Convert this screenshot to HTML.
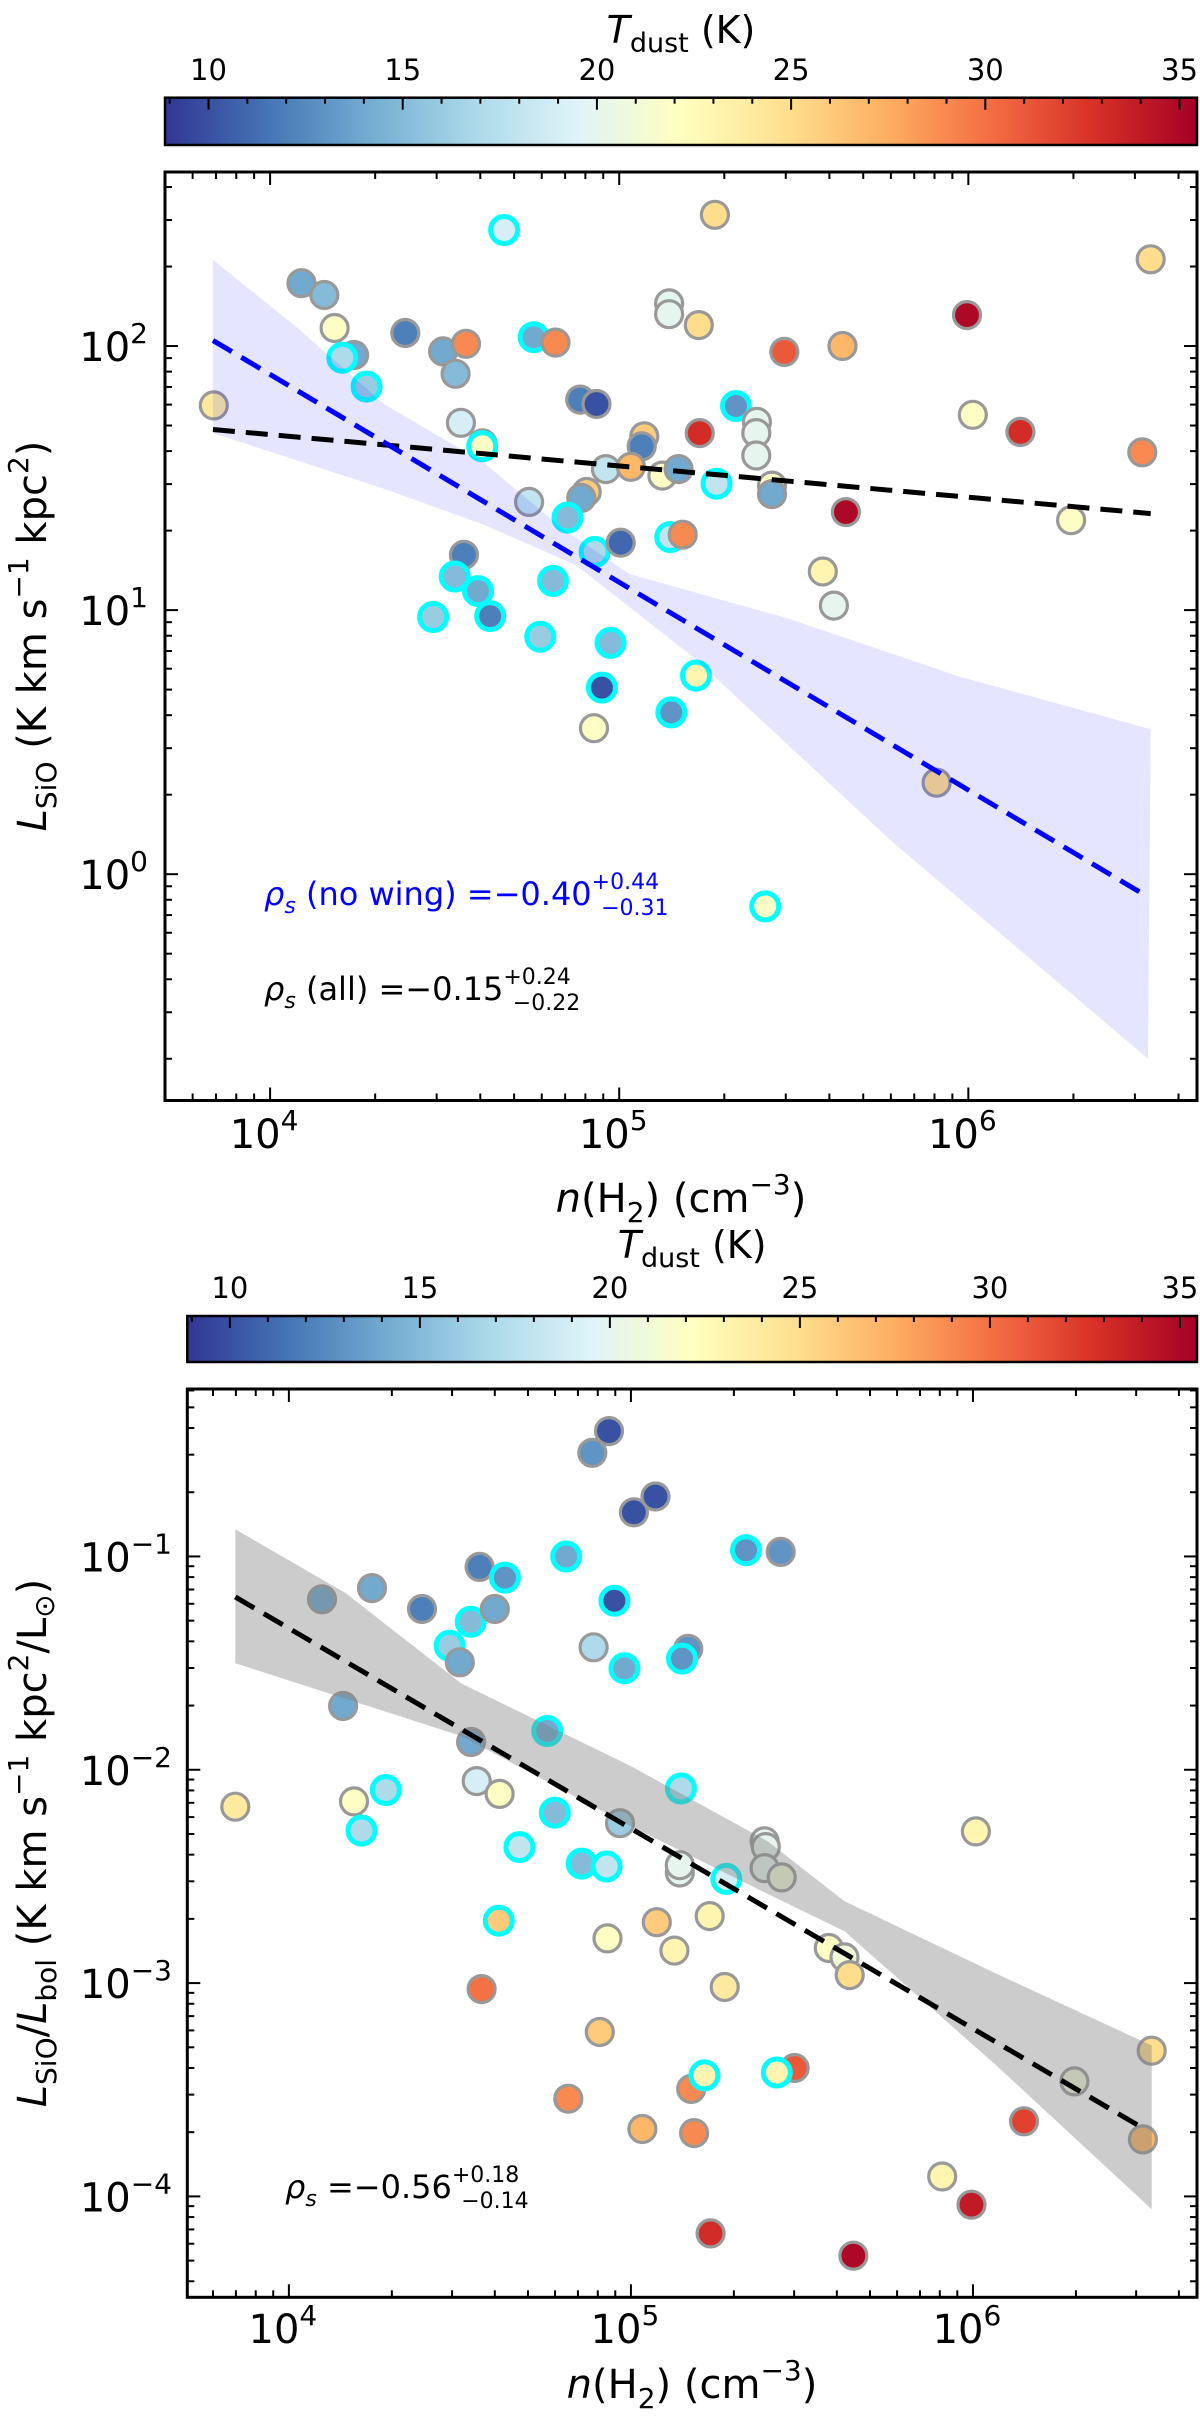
<!DOCTYPE html>
<html><head><meta charset="utf-8"><title>SiO luminosity vs density</title>
<style>
html,body{margin:0;padding:0;background:#fff;}
svg{display:block;font-family:"DejaVu Sans","Liberation Sans",sans-serif;}
</style></head>
<body>
<svg id="fig" xmlns="http://www.w3.org/2000/svg" width="1200" height="2418" viewBox="0 0 1200 2418">
<defs>
<linearGradient id="rdylbu" x1="0" y1="0" x2="1" y2="0">
<stop offset="0" stop-color="#313695"/><stop offset="0.1" stop-color="#4575b4"/><stop offset="0.2" stop-color="#74add1"/><stop offset="0.3" stop-color="#abd9e9"/><stop offset="0.4" stop-color="#e0f3f8"/><stop offset="0.5" stop-color="#ffffbf"/><stop offset="0.6" stop-color="#fee090"/><stop offset="0.7" stop-color="#fdae61"/><stop offset="0.8" stop-color="#f46d43"/><stop offset="0.9" stop-color="#d73027"/><stop offset="1" stop-color="#a50026"/>
</linearGradient>
</defs>
</svg>
<script>
// ---------- Colour scale ----------
const tMin = 8.88, tMax = 35.45;
const cbTicks = [10, 15, 20, 25, 30, 35];

// ---------- Top panel data: n(H2), L_SiO, T_dust, wing flag ----------
const topN = [6900,12300,14300,15300,17400,16100,18900,24400,31300,36400,34000,46800,56900,65700,35200,40600,40500,77300,86100,188000,139000,139000,169000,297000,436000,991000,3330000,216000,248000,247000,247000,170000,118000,116000,91600,108000,133000,148000,190000,274000,274000,1030000,1410000,3150000,446000,1970000,80700,77900,55200,71100,85000,101000,140000,152000,35900,33800,39400,42700,29300,64600,59400,94400,89200,166000,141000,84700,383000,412000,811000,262000];
const topL = [59.6,173,156,117,92.5,90.3,70.2,112,95.4,102,78.5,275,108,103,51.2,42.8,41.7,62.7,60.3,314,145,132,120,95,100,131,213,59.3,51.6,46.8,38.5,46.8,45.5,41.7,34.2,34.9,32.3,34.2,30.1,29.6,27.5,54.9,47.3,39.6,23.5,21.9,28.0,26.6,25.7,22.4,16.6,18.0,18.9,19.3,16.2,13.4,11.8,9.49,9.42,12.9,7.93,7.51,5.09,5.65,4.10,3.57,14.0,10.4,2.22,0.755];
const topT = [24,14,15,22,14,17,16,12,14,29,15,19,14,29,19,20,22,12,10,25,20,20,25,31,27,35,25,13,20,20,20,33,26,12,18,27,22,14,18,22,14,22,33,29,35,22,26,14,18,15,17,11,18,29,12,15,14,12,16,15,16,15,10,23,13,22,23,20,25,22];
const topWing = [0,0,0,0,0,1,1,0,0,0,0,1,1,0,0,0,1,0,0,0,0,0,0,0,0,0,0,1,0,0,0,0,0,0,0,0,0,0,1,0,0,0,0,0,0,0,0,0,0,1,1,0,1,0,0,1,1,1,1,1,1,1,1,1,1,0,0,0,0,1];
const fitBlueN = [6860, 3270000];
const fitBlueL = [105, 0.82];
const fitBlackN = [6860, 3330000];
const fitBlackL = [48.3, 23.2];
const bandBlueUpN = [6860,12000,21200,40800,69000,107000,304000,944000,3330000];
const bandBlueUpL = [212,117,60.3,36.3,20.3,13.7,9.3,5.6,3.54];
const bandBlueLoN = [6860,21200,40800,75200,165000,600000,3270000];
const bandBlueLoL = [46.8,28.8,21.1,14.8,6.55,1.34,0.2];

// ---------- Bottom panel data ----------
const botN = [6970,12500,17500,14400,24500,15500,16300,19200,29500,31600,34000,36100,40000,42800,34100,35400,41300,41100,36600,47200,56900,59900,64700,71800,77800,77100,86300,89500,95700,84900,85400,92900,81100,65600,102000,118000,108000,119000,134000,139000,139000,147000,141000,140000,170000,171000,150000,153000,164000,188000,190000,217000,274000,246000,248000,246000,276000,301000,267000,379000,421000,436000,447000,813000,990000,1020000,1410000,1980000,3140000,3330000];
const botR = [6.71e-3,6.30e-2,7.11e-2,1.99e-2,5.67e-2,7.11e-3,5.19e-3,8.04e-3,3.81e-2,3.19e-2,4.94e-2,8.93e-2,5.67e-2,7.96e-2,1.35e-2,8.85e-3,7.71e-3,1.96e-3,9.37e-4,4.34e-3,1.52e-2,6.29e-3,0.100,3.63e-3,3.75e-2,0.306,0.387,6.2e-2,2.99e-2,3.52e-3,1.62e-3,5.62e-3,5.9e-4,2.87e-4,0.161,0.191,2.07e-4,1.93e-3,1.42e-3,3.3e-3,3.57e-3,3.69e-2,3.32e-2,8.17e-3,2.06e-3,6.71e-5,3.19e-4,1.98e-4,3.69e-4,9.59e-4,3.08e-3,0.107,0.105,4.62e-3,4.34e-3,3.46e-3,3.13e-3,4.0e-4,3.81e-4,1.46e-3,1.32e-3,1.09e-3,5.27e-5,1.24e-4,9.14e-5,5.14e-3,2.25e-4,3.46e-4,1.85e-4,4.82e-4];
const botT = [24,14,14,14,12,22,17,17,16,14,15,12,14,13,14,19,22,26,30,18,14,15,14,15,17,13,10,10,14,18,22,16,26,29,10,10,27,26,23,20,20,13,13,17,23,33,29,29,23,24,19,13,13,20,20,20,21,31,23,22,21,25,35,23,34,23,32,21,27,25];
const botWing = [0,0,0,0,0,0,1,1,1,0,1,0,0,1,0,0,0,1,0,1,1,1,1,1,0,0,0,1,1,1,0,0,0,0,0,0,0,0,0,0,0,0,1,1,0,0,0,0,1,0,1,1,0,0,0,0,0,0,1,0,0,0,0,0,0,0,0,0,0,0];
const fitBotN = [6970, 3140000];
const fitBotR = [6.46e-2, 2.09e-4];
const bandBotUpN = [6970,14700,31900,100000,251000,421000,1180000,3330000];
const bandBotUpR = [0.134,6.71e-2,2.54e-2,1.04e-2,4.62e-3,2.42e-3,1.1e-3,5.1e-4];
const bandBotLoN = [6970,31900,100000,251000,421000,1180000,3330000];
const bandBotLoR = [3.16e-2,1.44e-2,5.44e-3,2.62e-3,1.75e-3,4.06e-4,8.7e-5];

const NS = "http://www.w3.org/2000/svg";
const svg = document.getElementById('fig');
function mk(tag, attrs, parent){const e=document.createElementNS(NS,tag);for(const k in attrs)e.setAttribute(k,attrs[k]);(parent||svg).appendChild(e);return e;}

const cmap = ["#313695","#4575b4","#74add1","#abd9e9","#e0f3f8","#ffffbf","#fee090","#fdae61","#f46d43","#d73027","#a50026"];
function hex(h){return [parseInt(h.substr(1,2),16),parseInt(h.substr(3,2),16),parseInt(h.substr(5,2),16)];}
function colorOf(T){let f=(T-tMin)/(tMax-tMin);f=Math.max(0,Math.min(1,f));const p=f*10;const i=Math.min(9,Math.floor(p));const t=p-i;const a=hex(cmap[i]),b=hex(cmap[i+1]);return 'rgb('+a.map((v,k)=>Math.round(v+(b[k]-v)*t)).join(',')+')';}

function makeAxes(px0,px1,py0,py1,lx0,lx1,ly0,ly1){
  return {px0,px1,py0,py1,
    x:n=>px0+(Math.log10(n)-lx0)/(lx1-lx0)*(px1-px0),
    y:v=>py1-(Math.log10(v)-ly0)/(ly1-ly0)*(py1-py0),
    lx0,lx1,ly0,ly1};
}
const A1 = makeAxes(165,1197,172,1100.5,3.699,6.655,-0.857,2.659);
const A2 = makeAxes(187.3,1197,1389,2297.3,3.703,6.655,-4.473,-0.215);

function colorbar(x0,x1,y0,y1,labY,titleY,name){
  const g=mk('g',{});
  
  
  const r=mk('rect',{x:x0,y:y0,width:x1-x0,height:y1-y0,fill:'url(#rdylbu)',stroke:'#000','stroke-width':2.5},g);
  
  
  const sx=T=>x0+(T-tMin)/(tMax-tMin)*(x1-x0);
  for(let T=9;T<=35;T++){
    const major=cbTicks.indexOf(T)>=0;
    mk('line',{x1:sx(T),x2:sx(T),y1:y0,y2:y0+(major?12:6),stroke:'#000','stroke-width':2},g);
  }
  cbTicks.forEach(T=>{
    const t=mk('text',{x:sx(T),y:labY,'text-anchor':'middle','font-size':29,fill:'#000'},g);
    t.textContent=String(T);
    
    
  });
  const tt=mk('text',{x:(x0+x1)/2,y:titleY,'text-anchor':'middle','font-size':38,fill:'#000'},g);
  tt.innerHTML='<tspan font-style="italic">T</tspan><tspan font-size="27" dy="9">dust</tspan><tspan dy="-9"> (K)</tspan>';
  
  
}
colorbar(165,1197,97.7,145,80,43,'colorbar-top');
colorbar(187.3,1197,1316,1362,1298,1258,'colorbar-bottom');

function poly(A,upN,upV,loN,loV,fill,op,name){
  let pts=[];
  for(let i=0;i<upN.length;i++)pts.push(A.x(upN[i]).toFixed(1)+','+A.y(upV[i]).toFixed(1));
  for(let i=loN.length-1;i>=0;i--)pts.push(A.x(loN[i]).toFixed(1)+','+A.y(loV[i]).toFixed(1));
  const p=mk('polygon',{points:pts.join(' '),fill:fill,'fill-opacity':op,stroke:'none'});
  
  
}
function points(A,N,V,T,W,name){
  const g=mk('g',{});
  
  
  for(let i=0;i<N.length;i++){
    const c=mk('circle',{cx:A.x(N[i]).toFixed(1),cy:A.y(V[i]).toFixed(1),r:13.5,fill:colorOf(T[i]),stroke:W[i]?'#00ffff':'#999999','stroke-width':W[i]?5:3.2},g);
    
    
  }
}
function line(A,N,V,color,name){
  const l=mk('line',{x1:A.x(N[0]),y1:A.y(V[0]),x2:A.x(N[1]),y2:A.y(V[1]),stroke:color,'stroke-width':5,'stroke-dasharray':'22,11'});
  
  
}
function frame(A,yTicks,name,yLabRight,yLabDy,xLabBase){
  const g=mk('g',{});
  
  
  mk('rect',{x:A.px0,y:A.py0,width:A.px1-A.px0,height:A.py1-A.py0,fill:'none',stroke:'#000','stroke-width':3},g);
  for(let d=3;d<=6;d++){for(let m=1;m<=9;m++){const v=m*Math.pow(10,d);const lv=Math.log10(v);if(lv<A.lx0||lv>A.lx1)continue;const X=A.x(v);const L=m===1?13:7;
    mk('line',{x1:X,x2:X,y1:A.py1,y2:A.py1-L,stroke:'#000','stroke-width':2},g);
    mk('line',{x1:X,x2:X,y1:A.py0,y2:A.py0+L,stroke:'#000','stroke-width':2},g);}}
  for(let d=-5;d<=2;d++){for(let m=1;m<=9;m++){const v=m*Math.pow(10,d);const lv=Math.log10(v);if(lv<A.ly0||lv>A.ly1)continue;const Y=A.y(v);const L=m===1?13:7;
    mk('line',{x1:A.px0,x2:A.px0+L,y1:Y,y2:Y,stroke:'#000','stroke-width':2},g);
    mk('line',{x1:A.px1,x2:A.px1-L,y1:Y,y2:Y,stroke:'#000','stroke-width':2},g);}}
  [4,5,6].forEach(e=>{
    const t=mk('text',{x:A.x(Math.pow(10,e))-6,y:xLabBase,'text-anchor':'middle','font-size':40,fill:'#000'},g);
    t.innerHTML='10<tspan font-size="28" dy="-18">'+e+'</tspan>';
    
    
  });
  yTicks.forEach(e=>{
    const t=mk('text',{x:yLabRight,y:A.y(Math.pow(10,e))+yLabDy,'text-anchor':'end','font-size':40,fill:'#000'},g);
    t.innerHTML='10<tspan font-size="28" dy="-18">'+(e<0?'\u2212'+(-e):e)+'</tspan>';
    
    
  });
}

points(A1,topN,topL,topT,topWing,'top-scatter');
poly(A1,bandBlueUpN,bandBlueUpL,bandBlueLoN,bandBlueLoL,'#0000ff',0.1,'no-wing-fit-band');
line(A1,fitBlackN,fitBlackL,'#000','all-fit-line');
line(A1,fitBlueN,fitBlueL,'#0000ff','no-wing-fit-line');
frame(A1,[0,1,2],'top-axes',148,15,1148);

points(A2,botN,botR,botT,botWing,'bottom-scatter');
poly(A2,bandBotUpN,bandBotUpR,bandBotLoN,bandBotLoR,'#808080',0.4,'fit-band');
line(A2,fitBotN,fitBotR,'#000','fit-line');
frame(A2,[-4,-3,-2,-1],'bottom-axes',172,15,2343);
</script>
<svg style="position:absolute;left:0;top:0" width="1200" height="2418" xmlns="http://www.w3.org/2000/svg" font-family="DejaVu Sans, Liberation Sans, sans-serif">
<text x="681" y="1212" text-anchor="middle" font-size="40"><tspan font-style="italic">n</tspan>(H<tspan font-size="28" dy="10">2</tspan><tspan dy="-10">) (cm</tspan><tspan font-size="28" dy="-18">−3</tspan><tspan dy="18">)</tspan></text>
<text x="692" y="2398" text-anchor="middle" font-size="40"><tspan font-style="italic">n</tspan>(H<tspan font-size="28" dy="10">2</tspan><tspan dy="-10">) (cm</tspan><tspan font-size="28" dy="-18">−3</tspan><tspan dy="18">)</tspan></text>
<text transform="translate(46,636) rotate(-90)" text-anchor="middle" font-size="40"><tspan font-style="italic">L</tspan><tspan font-size="28" dy="10">SiO</tspan><tspan dy="-10"> (K km s</tspan><tspan font-size="28" dy="-18">−1</tspan><tspan dy="18"> kpc</tspan><tspan font-size="28" dy="-18">2</tspan><tspan dy="18">)</tspan></text>
<text transform="translate(46,1843) rotate(-90)" text-anchor="middle" font-size="40"><tspan font-style="italic">L</tspan><tspan font-size="28" dy="10">SiO</tspan><tspan dy="-10">/</tspan><tspan font-style="italic">L</tspan><tspan font-size="28" dy="10">bol</tspan><tspan dy="-10"> (K km s</tspan><tspan font-size="28" dy="-18">−1</tspan><tspan dy="18"> kpc</tspan><tspan font-size="28" dy="-18">2</tspan><tspan dy="18">/L</tspan><tspan font-size="28" dy="8">⊙</tspan><tspan dy="-8">)</tspan></text>
<text x="264" y="905" font-size="32" fill="#0000ff"><tspan font-style="italic">ρ</tspan><tspan font-size="22" font-style="italic" dy="8">s</tspan><tspan dy="-8"> (no wing) =−0.40</tspan><tspan font-size="22" dy="-16">+0.44</tspan><tspan font-size="22" dx="-58" dy="26">−0.31</tspan></text>
<text x="264" y="1000" font-size="32" fill="#000"><tspan font-style="italic">ρ</tspan><tspan font-size="22" font-style="italic" dy="8">s</tspan><tspan dy="-8"> (all) =−0.15</tspan><tspan font-size="22" dy="-16">+0.24</tspan><tspan font-size="22" dx="-58" dy="26">−0.22</tspan></text>
<text x="285" y="2198" font-size="32" fill="#000"><tspan font-style="italic">ρ</tspan><tspan font-size="22" font-style="italic" dy="8">s</tspan><tspan dy="-8"> =−0.56</tspan><tspan font-size="22" dy="-16">+0.18</tspan><tspan font-size="22" dx="-58" dy="26">−0.14</tspan></text>
</svg>
</body></html>
